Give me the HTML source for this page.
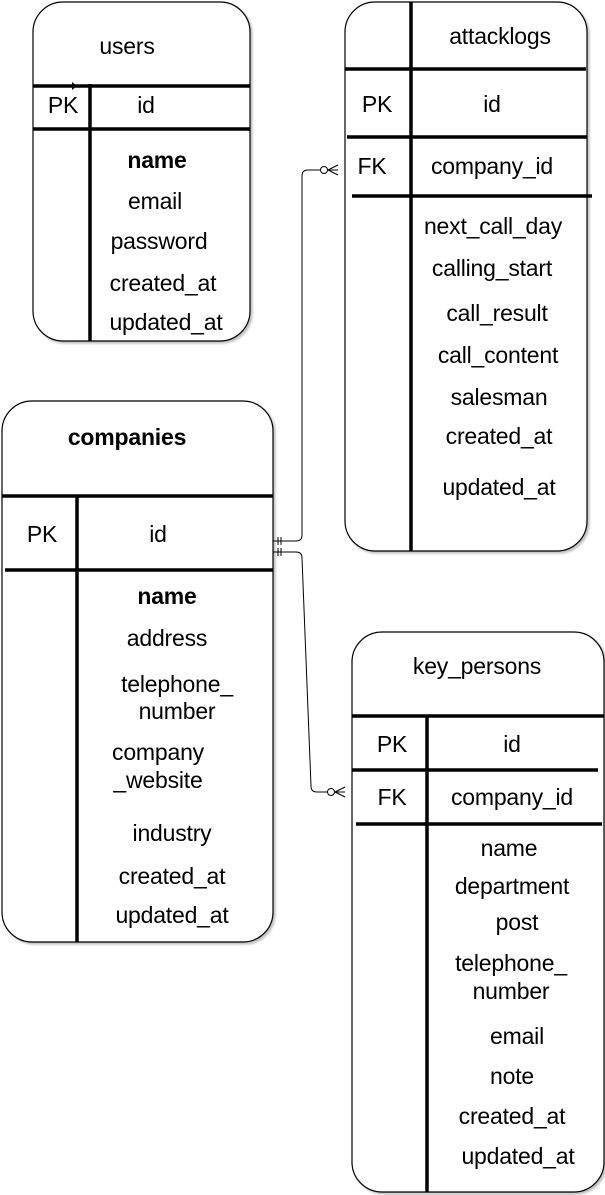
<!DOCTYPE html>
<html><head><meta charset="utf-8"><style>
html,body{margin:0;padding:0;background:#fff;}
svg{display:block;}
text{font-family:"Liberation Sans",Arial,sans-serif;font-size:23px;fill:#000;text-anchor:middle;dominant-baseline:central;letter-spacing:-0.2px;}
.b{font-weight:bold;}
</style></head><body>
<svg width="605" height="1195" viewBox="0 0 605 1195" xmlns="http://www.w3.org/2000/svg">
<defs><filter id="sh" x="-5%" y="-5%" width="110%" height="110%"><feDropShadow dx="2" dy="2" stdDeviation="1" flood-color="#000" flood-opacity="0.25"/></filter></defs>
<g fill="#fff" stroke="#000" stroke-width="1.2" filter="url(#sh)">
<rect x="33" y="2" width="217" height="339" rx="30"/>
<rect x="345" y="2" width="242" height="549" rx="30"/>
<rect x="2" y="401" width="271" height="541" rx="30"/>
<rect x="352" y="632" width="252" height="560" rx="30"/>
</g>
<g stroke="#000" stroke-width="3.5" fill="none">
<line x1="33" y1="86" x2="250" y2="86"/>
<line x1="33" y1="129" x2="250" y2="129"/>
<line x1="90" y1="84" x2="90" y2="341"/>
<line x1="411" y1="2" x2="411" y2="551"/>
<line x1="345" y1="69" x2="586" y2="69"/>
<line x1="347" y1="137" x2="587" y2="137"/>
<line x1="352" y1="196" x2="592" y2="196"/>
<line x1="2" y1="496" x2="273" y2="496"/>
<line x1="5" y1="570" x2="273" y2="570"/>
<line x1="77" y1="497" x2="77" y2="942"/>
<line x1="352" y1="716" x2="604" y2="716"/>
<line x1="352" y1="770" x2="598" y2="770"/>
<line x1="356" y1="824" x2="602" y2="824"/>
<line x1="427" y1="716" x2="427" y2="1192"/>
</g>
<g stroke="#000" stroke-width="1" fill="none">
<path d="M273 541 H296 Q302 541 302 535 V176 Q302 170 308 170 H320"/>
<circle cx="324" cy="170" r="3.5" fill="#fff"/>
<path d="M328 170 L338 165 M328 170 L338 175 M328 170 H338"/>
<line x1="278" y1="537" x2="278" y2="545"/><line x1="281" y1="537" x2="281" y2="545"/>
<path d="M273 552 H296 Q302 552 302 558 L311 786 Q311 792 317 792 H327"/>
<circle cx="331" cy="792" r="3.5" fill="#fff"/>
<path d="M335 792 L345 787 M335 792 L345 797 M335 792 H345"/>
<line x1="278" y1="548" x2="278" y2="556"/><line x1="281" y1="548" x2="281" y2="556"/>
</g>
<path d="M60 86 L76 86" stroke="#000" stroke-width="1"/>
<path d="M72 82 L77 86 L72 90Z" fill="#000"/>
<text x="127" y="46">users</text>
<text x="63" y="105">PK</text><text x="146" y="105">id</text>
<text x="157" y="160" class="b">name</text>
<text x="155" y="201">email</text>
<text x="159" y="241">password</text>
<text x="163" y="283">created_at</text>
<text x="166" y="322">updated_at</text>
<text x="500" y="36">attacklogs</text>
<text x="377" y="104">PK</text><text x="492" y="104">id</text>
<text x="372" y="166">FK</text><text x="492" y="166">company_id</text>
<text x="493" y="226">next_call_day</text>
<text x="492" y="268">calling_start</text>
<text x="497" y="313">call_result</text>
<text x="498" y="355">call_content</text>
<text x="499" y="397">salesman</text>
<text x="499" y="436">created_at</text>
<text x="499" y="487">updated_at</text>
<text x="127" y="437" class="b">companies</text>
<text x="42" y="534">PK</text><text x="158" y="534">id</text>
<text x="167" y="596" class="b">name</text>
<text x="167" y="638">address</text>
<text x="177" y="684">telephone_</text>
<text x="177" y="711">number</text>
<text x="158" y="752">company</text>
<text x="158" y="780">_website</text>
<text x="172" y="833">industry</text>
<text x="172" y="876">created_at</text>
<text x="172" y="915">updated_at</text>
<text x="477" y="666">key_persons</text>
<text x="392" y="744">PK</text><text x="512" y="744">id</text>
<text x="392" y="797">FK</text><text x="512" y="797">company_id</text>
<text x="509" y="848">name</text>
<text x="512" y="886">department</text>
<text x="517" y="922">post</text>
<text x="511" y="963">telephone_</text>
<text x="511" y="991">number</text>
<text x="517" y="1036">email</text>
<text x="512" y="1076">note</text>
<text x="512" y="1116">created_at</text>
<text x="518" y="1156">updated_at</text>
</svg>
</body></html>
